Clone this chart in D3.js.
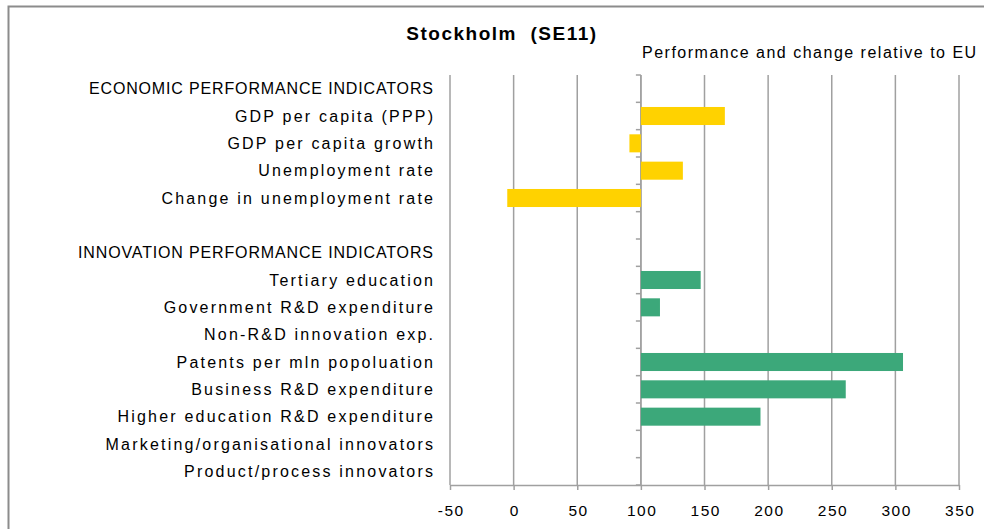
<!DOCTYPE html>
<html>
<head>
<meta charset="utf-8">
<script src="https://cdn.jsdelivr.net/npm/d3@7"></script>
<style>
  body { margin: 0; background: #fff; }
  text { font-family: "Liberation Sans", "DejaVu Sans", sans-serif; fill: #000; }
</style>
</head>
<body>
<svg id="chart" width="984" height="529"></svg>
<script>
// categories from top to bottom
const categories = [
  "ECONOMIC PERFORMANCE INDICATORS",
  "GDP per capita (PPP)",
  "GDP per capita growth",
  "Unemployment rate",
  "Change in unemployment rate",
  "",
  "INNOVATION PERFORMANCE INDICATORS",
  "Tertiary education",
  "Government R&D expenditure",
  "Non-R&D innovation exp.",
  "Patents per mln popoluation",
  "Business R&D expenditure",
  "Higher education R&D expenditure",
  "Marketing/organisational innovators",
  "Product/process innovators"
];

// index relative to EU (=100), null = no bar
const economicValues = [null, 166, 91, 133, -5, null, null, null, null, null, null, null, null, null, null];
const innovationValues = [null, null, null, null, null, null, null, 147, 115, null, 306, 261, 194, null, null];

const xTicks = [-50, 0, 50, 100, 150, 200, 250, 300, 350];
const baseline = 100;

const title = "Stockholm  (SE11)";
const subtitle = "Performance and change relative to EU";

// layout
const margin = { left: 450, right: 25, top: 75, bottom: 44 };
const W = 984, H = 529;
const plotW = 959 - margin.left;
const plotH = 485 - margin.top;

const yellow = "#ffd200";
const green = "#3ca87a";
const gridColor = "#a0a0a0";

const labelSpacing = 2.2;
const headerSpacing = 0.85;

const svg = d3.select("#chart");

// outer chart border (only top and left visible in the frame)
svg.append("path")
  .attr("d", `M8.5,${H} V6.5 H${W}`)
  .attr("fill", "none")
  .attr("stroke", "#8c8c8c")
  .attr("stroke-width", 2);

const x = d3.scaleLinear().domain([-50, 350]).range([0, plotW]);
const y = d3.scaleBand().domain(d3.range(categories.length)).range([0, plotH]).paddingInner(0.34).paddingOuter(0.17);

const g = svg.append("g").attr("transform", `translate(${margin.left},${margin.top})`);

// vertical gridlines
g.append("g")
  .selectAll("line")
  .data(xTicks)
  .join("line")
  .attr("x1", d => x(d)).attr("x2", d => x(d))
  .attr("y1", 0).attr("y2", plotH)
  .attr("stroke", gridColor)
  .attr("stroke-width", 1.5);

// bottom axis
const xAxis = g.append("g")
  .attr("transform", `translate(0,${plotH})`)
  .call(d3.axisBottom(x).tickValues(xTicks).tickFormat(d => String(d)).tickSize(5).tickSizeOuter(0).tickPadding(15));
xAxis.select(".domain").attr("stroke", gridColor).attr("stroke-width", 1.5);
xAxis.selectAll(".tick line").attr("stroke", gridColor).attr("stroke-width", 1.5);
xAxis.selectAll(".tick text")
  .style("font-size", "15.5px")
  .style("letter-spacing", "1.5px")
  .style("font-family", "'Liberation Sans', sans-serif")
  .attr("dx", "0.75px");

// category axis at value 100
const catTicks = d3.range(categories.length + 1).map(i => i * plotH / categories.length);
g.append("g")
  .selectAll("line")
  .data(catTicks)
  .join("line")
  .attr("x1", x(baseline) - 5).attr("x2", x(baseline))
  .attr("y1", d => d).attr("y2", d => d)
  .attr("stroke", gridColor)
  .attr("stroke-width", 1.5);
g.append("line")
  .attr("x1", x(baseline)).attr("x2", x(baseline))
  .attr("y1", 0).attr("y2", plotH)
  .attr("stroke", gridColor)
  .attr("stroke-width", 1.5);

// bars
function drawBars(values, color) {
  const data = values.map((v, i) => ({ v, i })).filter(d => d.v !== null);
  g.append("g")
    .selectAll("rect")
    .data(data)
    .join("rect")
    .attr("x", d => x(Math.min(d.v, baseline)))
    .attr("width", d => Math.abs(x(d.v) - x(baseline)))
    .attr("y", d => y(d.i))
    .attr("height", y.bandwidth())
    .attr("fill", color);
}
drawBars(economicValues, yellow);
drawBars(innovationValues, green);

// category labels
const isHeader = i => i === 0 || i === 6;
svg.append("g")
  .selectAll("text")
  .data(categories)
  .join("text")
  .attr("x", (d, i) => 433 + (isHeader(i) ? headerSpacing : labelSpacing))
  .attr("y", (d, i) => margin.top + y(i) + y.bandwidth() / 2)
  .attr("dy", "0.35em")
  .attr("text-anchor", "end")
  .style("font-size", "16px")
  .style("letter-spacing", (d, i) => (isHeader(i) ? headerSpacing : labelSpacing) + "px")
  .text(d => d);

// titles
svg.append("text")
  .attr("x", 502)
  .attr("y", 40)
  .attr("text-anchor", "middle")
  .style("font-size", "19px")
  .style("font-weight", "bold")
  .style("letter-spacing", "1.5px")
  .style("white-space", "pre")
  .text(title);

svg.append("text")
  .attr("x", 642)
  .attr("y", 58)
  .style("font-size", "16px")
  .style("letter-spacing", "1.5px")
  .text(subtitle);
</script>
</body>
</html>
